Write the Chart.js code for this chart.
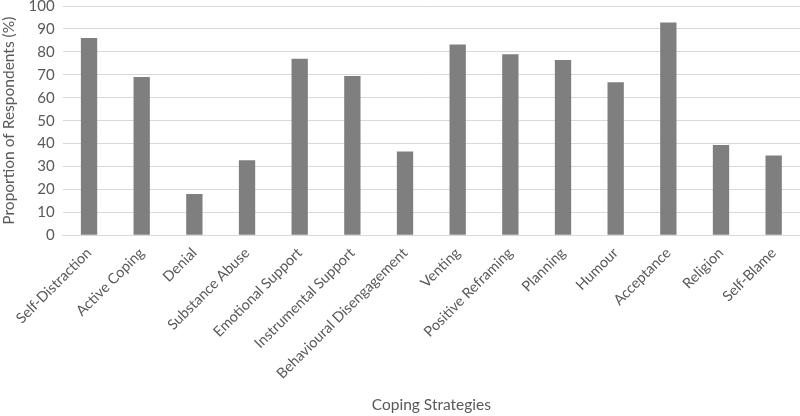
<!DOCTYPE html>
<html>
<head>
<meta charset="utf-8">
<script src="https://cdn.jsdelivr.net/npm/chart.js@4"></script>
<style>
  html, body { margin: 0; padding: 0; background: #fff; }
  #wrap { width: 800px; height: 416px; }
</style>
</head>
<body>
<div id="wrap"><canvas id="copingChart" width="800" height="416"></canvas></div>
<script>
// Estrategias de afrontamiento
const strategies = ['Self-Distraction', 'Active Coping', 'Denial', 'Substance Abuse', 'Emotional Support',
    'Instrumental Support', 'Behavioural Disengagement', 'Venting', 'Positive Reframing', 'Planning',
    'Humour', 'Acceptance', 'Religion', 'Self-Blame'];
const proportions = [86, 69, 18, 32.7, 77, 69.5, 36.6, 83.2, 79, 76.5, 66.8, 92.8, 39.4, 34.8];
const yTicks = [0, 10, 20, 30, 40, 50, 60, 70, 80, 90, 100];

document.addEventListener("DOMContentLoaded", function () {
    const ctx = document.getElementById('copingChart');
    if (!ctx) {
        console.error("No se encontró el elemento 'copingChart'.");
        return;
    }
    const textColor = '#595959';

    new Chart(ctx.getContext('2d'), {
        type: 'bar',
        data: {
            labels: strategies,
            datasets: [{
                data: proportions,
                backgroundColor: '#7f7f7f',
                barPercentage: 0.31,
                categoryPercentage: 1
            }]
        },
        options: {
            responsive: false,
            animation: false,
            layout: { padding: { top: 0, right: 0, bottom: 2, left: 0 } },
            plugins: {
                legend: { display: false },
                tooltip: { enabled: false }
            },
            scales: {
                x: {
                    grid: { display: false, drawTicks: false },
                    border: { color: '#d9d9d9' },
                    ticks: {
                        color: textColor,
                        font: { family: 'Lato', size: 14.5 },
                        minRotation: 45,
                        maxRotation: 45,
                        padding: 9,
                        autoSkip: false
                    },
                    title: {
                        display: true,
                        text: 'Coping Strategies',
                        color: textColor,
                        font: { family: 'Lato', size: 15.5 },
                        padding: { top: 4, bottom: 0 }
                    }
                },
                y: {
                    min: 0,
                    max: 100,
                    afterBuildTicks: function (axis) {
                        axis.ticks = yTicks.map(v => ({ value: v }));
                    },
                    afterFit: function (axis) {
                        axis.paddingTop = 6; // espacio mínimo arriba
                    },
                    grid: { color: '#d9d9d9', drawTicks: false },
                    border: { display: false },
                    ticks: {
                        color: textColor,
                        font: { family: 'Lato', size: 15 },
                        padding: 8
                    },
                    title: {
                        display: true,
                        text: 'Proportion of Respondents (%)',
                        color: textColor,
                        font: { family: 'Lato', size: 15.5 },
                        padding: { top: 0, bottom: 2 }
                    }
                }
            }
        }
    });
});
</script>
</body>
</html>
